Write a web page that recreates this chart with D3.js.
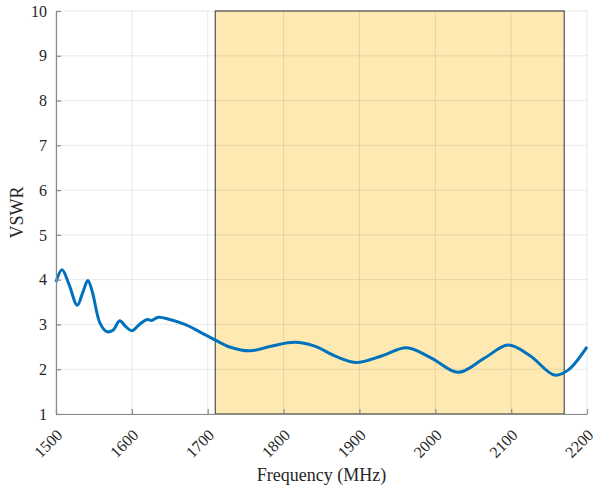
<!DOCTYPE html>
<html>
<head>
<meta charset="utf-8">
<script src="https://cdn.jsdelivr.net/npm/d3@7"></script>
<style>
  body { margin: 0; background: #fff; }
</style>
</head>
<body>
<svg id="chart"></svg>
<script>
// frequency (MHz) and VSWR
const freq = [1500, 1508, 1517, 1528, 1535, 1542, 1548, 1558, 1567, 1575, 1584, 1592, 1600, 1610, 1620, 1626, 1635, 1650, 1670, 1690, 1710, 1730, 1756, 1785, 1815, 1840, 1870, 1896, 1930, 1962, 1995, 2030, 2065, 2096, 2125, 2157, 2175, 2200];
const vswr = [3.95, 4.22, 3.9, 3.43, 3.7, 3.98, 3.72, 3.03, 2.84, 2.87, 3.08, 2.95, 2.86, 3.0, 3.11, 3.09, 3.16, 3.11, 3.0, 2.83, 2.65, 2.49, 2.41, 2.52, 2.6, 2.52, 2.28, 2.15, 2.3, 2.48, 2.25, 1.93, 2.25, 2.54, 2.3, 1.87, 1.98, 2.5];
const band = [1710, 2170];
const xTicks = [1500, 1600, 1700, 1800, 1900, 2000, 2100, 2200];
const yTicks = [1, 2, 3, 4, 5, 6, 7, 8, 9, 10];

const FONT = "'Liberation Serif', 'Times New Roman', serif";
const W = 596, H = 491;
const margin = { top: 11, right: 9, bottom: 77, left: 56 };
const width = W - margin.left - margin.right;
const height = H - margin.top - margin.bottom;

const svg = d3.select("#chart").attr("width", W).attr("height", H);
const g = svg.append("g").attr("transform", `translate(${margin.left},${margin.top})`);

const x = d3.scaleLinear().domain([1500, 2200]).range([0, width]);
const y = d3.scaleLinear().domain([1, 10]).range([height, 0]);

// shaded band
g.append("rect")
    .attr("x", x(band[0]))
    .attr("y", y(10))
    .attr("width", x(band[1]) - x(band[0]))
    .attr("height", y(1) - y(10))
    .style("fill", "#fde9b1")
    .style("stroke", "#5e5e5e")
    .style("stroke-width", 1.3);

// grid
g.selectAll(".vgrid").data(xTicks).enter().append("line")
    .attr("x1", d => x(d)).attr("x2", d => x(d))
    .attr("y1", 0).attr("y2", height)
    .style("stroke", "rgba(0,0,0,0.09)");
g.selectAll(".hgrid").data(yTicks).enter().append("line")
    .attr("x1", 0).attr("x2", width)
    .attr("y1", d => y(d)).attr("y2", d => y(d))
    .style("stroke", "rgba(0,0,0,0.09)");

// curve
const line = d3.line()
    .x((d, i) => x(freq[i]))
    .y(d => y(d))
    .curve(d3.curveCatmullRom.alpha(0.5));
g.append("path")
    .datum(vswr)
    .attr("d", line)
    .style("fill", "none")
    .style("stroke", "#0072bd")
    .style("stroke-width", 3);

// axes
const xAxis = g.append("g")
    .attr("transform", `translate(0,${height})`)
    .call(d3.axisBottom(x).tickValues(xTicks).tickSize(-5).tickSizeOuter(0).tickFormat(d3.format("d")));
xAxis.selectAll("text")
    .style("text-anchor", "end")
    .style("font-family", FONT)
    .style("font-size", "16px")
    .style("fill", "#262626")
    .attr("x", 0).attr("y", 0).attr("dy", 0)
    .attr("transform", "translate(7,22) rotate(-45)");

const yAxis = g.append("g")
    .call(d3.axisLeft(y).tickValues(yTicks).tickSize(-5).tickSizeOuter(0));
yAxis.selectAll("text")
    .style("font-family", FONT)
    .style("font-size", "16px")
    .style("fill", "#262626")
    .attr("x", -9);

svg.selectAll(".domain, .tick line").style("stroke", "#8a8a8a").style("stroke-width", 1.2);

// labels
svg.append("text")
    .attr("x", margin.left + width / 2)
    .attr("y", 481)
    .attr("text-anchor", "middle")
    .style("font-family", FONT)
    .style("font-size", "18px")
    .style("fill", "#262626")
    .text("Frequency (MHz)");

svg.append("text")
    .attr("transform", `translate(23,${margin.top + height / 2}) rotate(-90)`)
    .attr("text-anchor", "middle")
    .style("font-family", FONT)
    .style("font-size", "18px")
    .style("fill", "#262626")
    .text("VSWR");
</script>
</body>
</html>
